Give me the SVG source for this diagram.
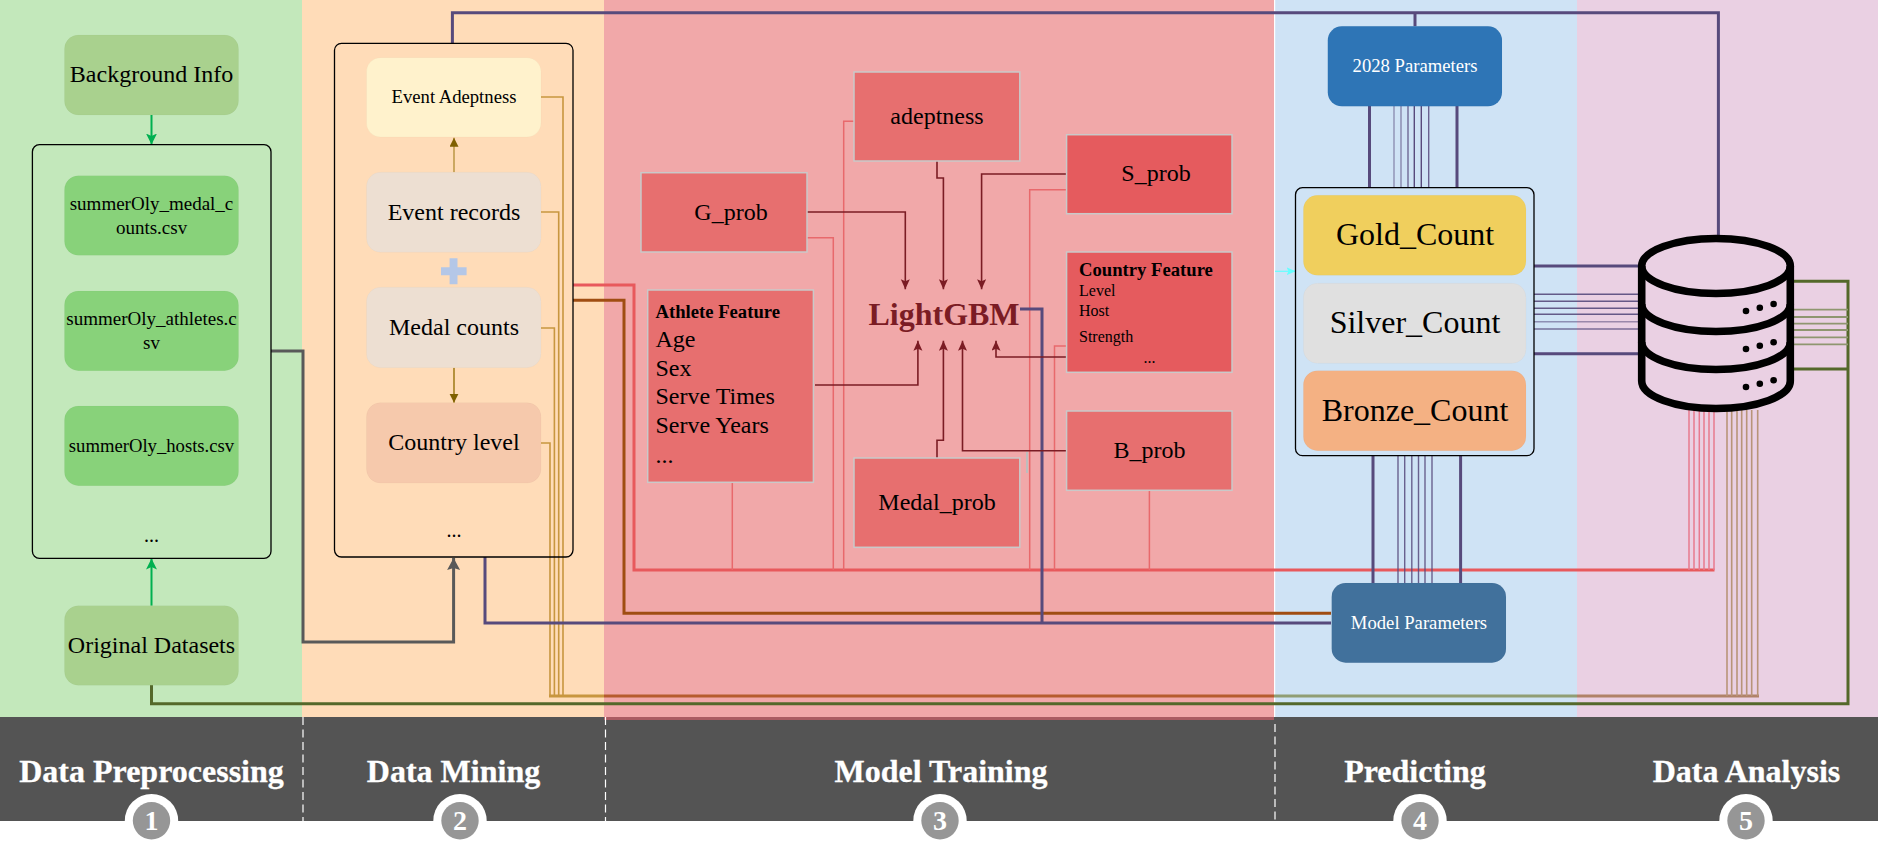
<svg xmlns="http://www.w3.org/2000/svg" width="1878" height="866" viewBox="0 0 1878 866">
<style>
text{font-family:"Liberation Serif","Times New Roman",serif;fill:#000;text-anchor:middle}
.s24{font-size:24px}.s32{font-size:32px}.s20{font-size:20px}.s19{font-size:19px}.s187{font-size:18.67px}.s16{font-size:16px}.bold{font-weight:bold}
.l{text-anchor:start}
.w{fill:#fff}
.band{font-size:32px;font-weight:bold;fill:#fff;stroke:#fff;stroke-width:.3}
.num{font-size:28px;font-weight:bold;fill:#fff}
.rr{rx:14px;ry:14px}
.box{stroke:#c9c9c9;stroke-width:1.5}
.soft{stroke:#000;stroke-opacity:.02;stroke-width:1}
.frame{fill:none;stroke:#000;stroke-width:1.3}
.c{fill:none}
.grey{stroke:#595959;stroke-width:3}
.pur{stroke:#574a7c;stroke-width:3}
.pur1{stroke:#574a7c;stroke-width:1.4}
.red{stroke:#e8595c;stroke-width:3}
.red1{stroke:#e8696c;stroke-width:1.5}
.pink{stroke:#e8798f;stroke-width:1.5}
.brown{stroke:#a04d12;stroke-width:3}
.gold{stroke:#c8963f;stroke-width:1.6}
.goldb{stroke:#b89478;stroke-width:1.6}
.ol{stroke:#54682a;stroke-width:3}
.ol1{stroke:#8f9670;stroke-width:1.8}
.dr{stroke:#7b1c24;stroke-width:1.6}
.gr{stroke:#00b050;stroke-width:2}
.dash{stroke:#fff;stroke-width:1.2;stroke-dasharray:8 4.5;fill:none}
</style>
<defs>
<marker id="aGreen" markerUnits="userSpaceOnUse" markerWidth="12" markerHeight="11" refX="11" refY="5.5" orient="auto"><path d="M0 0L11 5.5L0 11L2.5 5.5Z" fill="#00b050"/></marker>
<marker id="aDark" markerUnits="userSpaceOnUse" markerWidth="11" markerHeight="10" refX="10" refY="4.5" orient="auto"><path d="M0 0L10 4.5L0 9L2 4.5Z" fill="#7b1c24"/></marker>
<marker id="aGold" markerUnits="userSpaceOnUse" markerWidth="11" markerHeight="10" refX="9" refY="4.5" orient="auto"><path d="M0 0L9 4.5L0 9Z" fill="#7f6000"/></marker>
<marker id="aGrey" markerUnits="userSpaceOnUse" markerWidth="13" markerHeight="14" refX="12" refY="6.5" orient="auto"><path d="M0 0L12 6.5L0 13L2 6.5Z" fill="#595959"/></marker>
<marker id="aCyan" markerUnits="userSpaceOnUse" markerWidth="10" markerHeight="9" refX="9" refY="4" orient="auto"><path d="M0 0L9 4L0 8L2 4Z" fill="#66ffff"/></marker>
</defs>
<g id="backgrounds">
<rect width="1878" height="866" fill="#fff"/>
<rect x="0" y="0" width="302" height="717" fill="#c3e8bb"/>
<rect x="302" y="0" width="302" height="717" fill="#ffdcb8"/>
<rect x="604" y="0" width="670" height="717" fill="#f1a8a9"/>
<rect x="1274" y="0" width="303" height="717" fill="#cfe3f5"/>
<rect x="1577" y="0" width="301" height="717" fill="#ead0e3"/>
<rect x="1274" y="0" width="1.2" height="717" fill="#fff"/>
</g>
<g id="band">
<rect x="0" y="717" width="1878" height="104" fill="#545454"/>
<rect x="604" y="717" width="670" height="3" fill="#aa5c62"/>
<path class="dash" d="M303 717V821"/><path class="dash" d="M605.5 717V821"/><path class="dash" d="M1275 724V830"/>
<text class="band" x="151.5" y="782">Data Preprocessing</text>
<text class="band" x="453.5" y="782">Data Mining</text>
<text class="band" x="941" y="782">Model Training</text>
<text class="band" x="1415" y="782">Predicting</text>
<text class="band" x="1746.5" y="782">Data Analysis</text>
</g>
<g id="step1"><circle cx="151.5" cy="820.7" r="26.7" fill="#fff"/><circle cx="151.5" cy="820.7" r="18.7" fill="#969696"/><text class="num" x="151.5" y="830">1</text></g>
<g id="step2"><circle cx="460" cy="820.7" r="26.7" fill="#fff"/><circle cx="460" cy="820.7" r="18.7" fill="#969696"/><text class="num" x="460" y="830">2</text></g>
<g id="step3"><circle cx="940" cy="820.7" r="26.7" fill="#fff"/><circle cx="940" cy="820.7" r="18.7" fill="#969696"/><text class="num" x="940" y="830">3</text></g>
<g id="step4"><circle cx="1420" cy="820.7" r="26.7" fill="#fff"/><circle cx="1420" cy="820.7" r="18.7" fill="#969696"/><text class="num" x="1420" y="830">4</text></g>
<g id="step5"><circle cx="1746" cy="820.7" r="26.7" fill="#fff"/><circle cx="1746" cy="820.7" r="18.7" fill="#969696"/><text class="num" x="1746" y="830">5</text></g>

<g id="connectors" class="c">
<!-- gold feeders -->
<path class="gold" d="M541 97H563V696"/>
<path class="gold" d="M541 212H558.7V696"/>
<path class="gold" d="M541 328H554.4V696"/>
<path class="gold" d="M541 443H550V696"/>
<path stroke="#c8963f" stroke-width="2.8" d="M549 696H604"/>
<path stroke="#b65c2e" stroke-width="2.8" d="M604 696H1274"/>
<path stroke="#909e74" stroke-width="2.8" d="M1274 696H1577"/>
<path stroke="#b08268" stroke-width="2.8" d="M1577 696H1759"/>
<path class="goldb" d="M1727 696V410M1731.7 696V410M1737 696V410M1741.7 696V410M1746.7 696V410M1751.7 696V410M1757.7 696V410"/>
<!-- red bus -->
<path class="red" d="M573 285H634V570H1714.5"/>
<path class="red1" d="M807 237.7H833.3V570"/>
<path class="red1" d="M854 121.3H843.7V570"/>
<path class="red1" d="M1066.6 189.7H1029.7V570"/>
<path class="red1" stroke-width="1.2" d="M1066.6 346H1054.5V570"/>
<path class="red1" d="M732.3 482V570"/>
<path class="red1" d="M1149.4 490V570"/>
<path class="pink" d="M1689 570V410M1694 570V410M1699.3 570V410M1704 570V410M1709 570V410M1714 570V410"/>
<path stroke="#bdbdbd" stroke-width="2" d="M1027 452V473"/>
<!-- brown -->
<path class="brown" d="M573 300.3H624V613.3H1331"/>
<!-- grey -->
<path class="grey" marker-end="url(#aGrey)" d="M271 351H303V642H453.6V558"/>
<!-- purple -->
<path class="pur" d="M452.4 43V12.7H1718.4V236"/>
<path class="pur" d="M1415 12.7V26.3"/>
<path class="pur" d="M485 557V623H1331"/>
<path class="pur" d="M1020 309H1042V623"/>
<path class="pur" d="M1369.5 106V188M1457 106V188"/>
<path class="pur1" stroke-opacity=".55" stroke-width="2" d="M1394 106V188"/>
<path class="pur1" stroke-opacity=".6" d="M1401 106V188"/>
<path class="pur1" stroke-opacity=".8" d="M1408 106V188"/>
<path class="pur1" d="M1414.3 106V188M1421.3 106V188"/>
<path class="pur1" stroke-opacity=".85" d="M1428.7 106V188"/>
<path class="pur" d="M1373 456V583M1460.6 456V583"/>
<path class="pur1" stroke-opacity=".85" d="M1398 456V583M1404.7 456V583M1411.8 456V583M1418.5 456V583M1425 456V583M1432 456V583"/>
<path class="pur" d="M1534 266H1640M1534 353.7H1640"/>
<path class="pur1" stroke-opacity=".9" d="M1534 294.3H1640M1534 301.3H1640M1534 308.3H1640M1534 314.3H1640"/>
<path class="pur1" stroke-opacity=".55" stroke-width="2" d="M1534 321.7H1640"/>
<path class="pur1" stroke-opacity=".75" d="M1534 329H1640"/>
<!-- olive -->
<path class="ol" d="M151.5 685V703.7H1848V281.3H1792"/>
<path class="ol" d="M1792 369H1848"/>
<path class="ol1" d="M1793 309.7H1848M1793 317H1848M1793 323.7H1848M1793 330H1848M1793 337.3H1848M1793 344.3H1848"/>
<!-- green arrows -->
<path class="gr" marker-end="url(#aGreen)" d="M151.5 115V144.5"/>
<path class="gr" marker-end="url(#aGreen)" d="M151.5 605.7V558.5"/>
<!-- mining arrows -->
<path stroke="#bf9b4b" stroke-width="1.6" marker-end="url(#aGold)" d="M454 172.3V137.7"/>
<path stroke="#a37f1f" stroke-width="1.6" marker-end="url(#aGold)" d="M454 367.7V402.7"/>
<!-- lightgbm arrows -->
<path class="dr" marker-end="url(#aDark)" d="M807 212H905.3V289.3"/>
<path class="dr" marker-end="url(#aDark)" d="M937 161V178H943.4V289.3"/>
<path class="dr" marker-end="url(#aDark)" d="M1066.6 174H981.6V289.3"/>
<path class="dr" marker-end="url(#aDark)" d="M815 385H917.9V340.7"/>
<path class="dr" marker-end="url(#aDark)" d="M937 458V440.3H943.4V340.7"/>
<path class="dr" marker-end="url(#aDark)" d="M1066.6 450.7H962.5V340.7"/>
<path class="dr" marker-end="url(#aDark)" d="M1066.6 357H996V340.7"/>
<!-- cyan -->
<path stroke="#66ffff" stroke-width="1.2" marker-end="url(#aCyan)" d="M1275 271.3H1295.5"/>
</g>

<g id="datasets-frame"><rect class="frame" x="32.4" y="144.7" width="238.6" height="413.6" rx="7"/><text class="s20" x="151.5" y="542">...</text></g>
<g id="background-info"><rect class="soft rr" x="64.5" y="35" width="174" height="80" fill="#a9d18e"/><text class="s24" x="151.5" y="82">Background Info</text></g>
<g id="csv-medal"><rect class="soft rr" x="64.5" y="175.7" width="174" height="79.6" fill="#88d27a"/><text class="s19" x="151.5" y="210">summerOly_medal_c</text><text class="s19" x="151.5" y="234">ounts.csv</text></g>
<g id="csv-athletes"><rect class="soft rr" x="64.5" y="291" width="174" height="79.7" fill="#88d27a"/><text class="s19" x="151.5" y="325">summerOly_athletes.c</text><text class="s19" x="151.5" y="349">sv</text></g>
<g id="csv-hosts"><rect class="soft rr" x="64.5" y="406" width="174" height="79.7" fill="#88d27a"/><text class="s187" x="151.5" y="452">summerOly_hosts.csv</text></g>
<g id="original-datasets"><rect class="soft rr" x="64.5" y="605.7" width="174" height="79.6" fill="#a9d18e"/><text class="s24" x="151.5" y="653">Original Datasets</text></g>

<g id="mining-frame"><rect class="frame" x="334.5" y="43.3" width="238.5" height="513.7" rx="7"/><text class="s20" x="454" y="537">...</text></g>
<g id="event-adeptness"><rect class="soft rr" x="366.5" y="57.7" width="174.5" height="79.3" fill="#fff2cc"/><text class="s187" x="454" y="103">Event Adeptness</text></g>
<g id="event-records"><rect class="soft rr" x="366.5" y="172.3" width="174.5" height="80" fill="#eddfd2"/><text class="s24" x="454" y="220">Event records</text></g>
<g id="plus"><path fill="#b4c7e7" d="M449.6 258.3H457.5V267.3H466.6V275.3H457.5V284.3H449.6V275.3H441V267.3H449.6Z"/></g>
<g id="medal-counts"><rect class="soft rr" x="366.5" y="287.3" width="174.5" height="80.4" fill="#eddfd2"/><text class="s24" x="454" y="335">Medal counts</text></g>
<g id="country-level"><rect class="soft rr" x="366.5" y="402.7" width="174.5" height="80.3" fill="#f6c9ac"/><text class="s24" x="454" y="450">Country level</text></g>

<g id="adeptness"><rect class="box" x="854" y="72" width="165.8" height="89" fill="#e76f6f"/><text class="s24" x="937" y="124.3">adeptness</text></g>
<g id="s-prob"><rect class="box" x="1066.6" y="134.7" width="165.4" height="79" fill="#e55b5e"/><text class="s24" x="1156" y="181">S_prob</text></g>
<g id="g-prob"><rect class="box" x="641" y="172.7" width="166" height="79.3" fill="#e76f6f"/><text class="s24" x="731" y="220">G_prob</text></g>
<g id="athlete-feature"><rect class="box" x="647.7" y="290" width="165.7" height="192.3" fill="#e76f6f"/>
<text class="l bold" font-size="18.67" x="655.5" y="318">Athlete Feature</text>
<text class="l s24" x="655.5" y="347">Age</text><text class="l s24" x="655.5" y="375.5">Sex</text><text class="l s24" x="655.5" y="404">Serve Times</text><text class="l s24" x="655.5" y="433">Serve Years</text><text class="l s24" x="655.5" y="463">...</text></g>
<g id="country-feature"><rect class="box" x="1066.6" y="252" width="165.4" height="120.3" fill="#e55b5e"/>
<text class="l bold" font-size="18.67" x="1079" y="276">Country Feature</text>
<text class="l s16" x="1079" y="296">Level</text><text class="l s16" x="1079" y="315.5">Host</text><text class="l s16" x="1079" y="342">Strength</text><text class="s16" x="1149.4" y="363">...</text></g>
<g id="b-prob"><rect class="box" x="1066.6" y="411" width="165.4" height="79.3" fill="#e76f6f"/><text class="s24" x="1149.4" y="458">B_prob</text></g>
<g id="medal-prob"><rect class="box" x="854" y="458" width="165.8" height="89.3" fill="#e76f6f"/><text class="s24" x="937" y="510">Medal_prob</text></g>
<g id="lightgbm"><text class="s32 bold" style="fill:#7b1c24" x="944" y="324.5">LightGBM</text></g>

<g id="params-2028"><rect class="soft rr" x="1327.8" y="26.3" width="174.2" height="80" fill="#2e75b6"/><text class="s187 w" x="1415" y="72">2028 Parameters</text></g>
<g id="counts-frame"><rect class="frame" x="1295.5" y="187.7" width="238.5" height="268" rx="7"/></g>
<g id="gold-count"><rect class="soft rr" x="1303.4" y="195.3" width="222.6" height="80" fill="#f0cf5d"/><text class="s32" x="1415" y="245">Gold_Count</text></g>
<g id="silver-count"><rect class="soft rr" x="1303.4" y="283.3" width="222.6" height="80" fill="#e0e0e0"/><text class="s32" x="1415" y="333">Silver_Count</text></g>
<g id="bronze-count"><rect class="soft rr" x="1303.4" y="370.7" width="222.6" height="80" fill="#f4b183"/><text class="s32" x="1415" y="421">Bronze_Count</text></g>
<g id="model-params"><rect class="soft rr" x="1331.7" y="583" width="174.3" height="79.7" fill="#41719c"/><text class="s187 w" x="1419" y="629">Model Parameters</text></g>

<g id="database">
<g fill="none" stroke="#000" stroke-width="7.6">
<ellipse cx="1716" cy="266" rx="74.3" ry="27.5"/>
<path d="M1641.7 266V381A74.3 27.5 0 0 0 1790.3 381V266"/>
<path d="M1641.7 304A74.3 27.5 0 0 0 1790.3 304M1641.7 342A74.3 27.5 0 0 0 1790.3 342"/>
</g>
<g fill="#000">
<circle cx="1746" cy="311" r="3.3"/><circle cx="1759.8" cy="307.7" r="3.3"/><circle cx="1773.6" cy="304" r="3.3"/>
<circle cx="1746" cy="349" r="3.3"/><circle cx="1759.8" cy="345.7" r="3.3"/><circle cx="1773.6" cy="342.3" r="3.3"/>
<circle cx="1746" cy="387" r="3.3"/><circle cx="1759.8" cy="383.7" r="3.3"/><circle cx="1773.6" cy="380.3" r="3.3"/>
</g>
</g>
</svg>
